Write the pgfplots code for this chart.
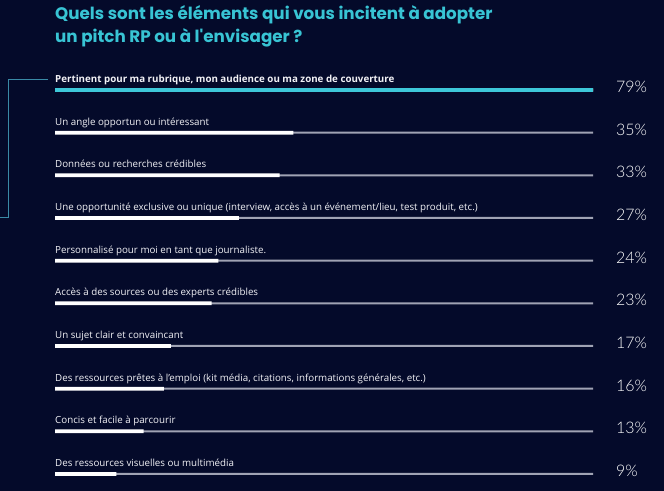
\documentclass[border=0pt]{standalone}
\usepackage{pgfplots}
\pgfplotsset{compat=1.18}
\usepackage{pgfplotstable}
\usepackage{fontspec}
\setmainfont{Open Sans}
\newfontfamily\titlefont{Poppins}
\newfontfamily\pctfont{Lato}[UprightFont={* Light}]
\definecolor{bg}{HTML}{040A2A}
\definecolor{titlecol}{HTML}{38C4D4}
\definecolor{cyanbar}{HTML}{3EC8D9}
\definecolor{track}{HTML}{A0A3B4}
\definecolor{bracketcol}{HTML}{3A8AA6}
\definecolor{labelcol}{HTML}{F2F2F6}

\pgfplotstableread[col sep=semicolon]{
y;value;label
10;79;\textbf{Pertinent pour ma rubrique, mon audience ou ma zone de couverture}
9;35;Un angle opportun ou intéressant
8;33;Données ou recherches crédibles
7;27;Une opportunité exclusive ou unique (interview, accès à un événement/lieu, test produit, etc.)
6;24;Personnalisé pour moi en tant que journaliste.
5;23;Accès à des sources ou des experts crédibles
4;17;Un sujet clair et convaincant
3;16;Des ressources prêtes à l'emploi (kit média, citations, informations générales, etc.)
2;13;Concis et facile à parcourir
1;9;Des ressources visuelles ou multimédia
}\datatable

\begin{document}
\begin{tikzpicture}
\path[use as bounding box, fill=bg] (0,0) rectangle (664bp,491bp);
\node[anchor=base west, inner sep=0, text=titlecol, font=\titlefont\bfseries\fontsize{16.8}{20}\selectfont] at (55bp,471bp) {Quels sont les éléments qui vous incitent à adopter};
\node[anchor=base west, inner sep=0, text=titlecol, font=\titlefont\bfseries\fontsize{16.8}{20}\selectfont] at (55bp,448bp) {un pitch RP ou à l'envisager ?};
\draw[bracketcol, line width=0.9bp] (48bp,412bp) -- (8bp,412bp) -- (8bp,274bp) -- (0bp,274bp);
\begin{axis}[
  at={(55bp,-25.667bp)}, anchor=south west,
  scale only axis, width=538bp, height=469.333bp,
  xmin=0, xmax=79, ymin=0, ymax=11,
  hide axis, clip=false,
]
% grey tracks
\addplot[xbar, bar shift=0pt, bar width=2bp, fill=track, draw=none]
  table[x expr=79, y=y] {\datatable};
% white value bars
\addplot[xbar, bar shift=0pt, bar width=3.8bp, fill=white, draw=none]
  table[x=value, y=y] {\datatable};
% highlighted first bar
\addplot[xbar, bar shift=0pt, bar width=3.8bp, fill=cyanbar, draw=none]
  coordinates {(79,10)};
% category labels
\addplot[draw=none, mark=none, point meta=explicit symbolic,
  nodes near coords={\pgfplotspointmeta},
  nodes near coords style={anchor=base west, inner sep=0pt, yshift=7.5bp,
    text=labelcol, font=\fontsize{9.8}{11}\selectfont}]
  table[x expr=0, y=y, meta=label] {\datatable};
% percentage labels
\addplot[draw=none, mark=none, point meta=explicit symbolic,
  nodes near coords={\pgfplotspointmeta\%},
  nodes near coords style={anchor=base west, inner sep=0pt, xshift=23bp, yshift=-2.5bp,
    text=white, font=\pctfont\fontsize{16}{18}\selectfont}]
  table[x expr=79, y=y, meta=value] {\datatable};
\end{axis}
\end{tikzpicture}
\end{document}
